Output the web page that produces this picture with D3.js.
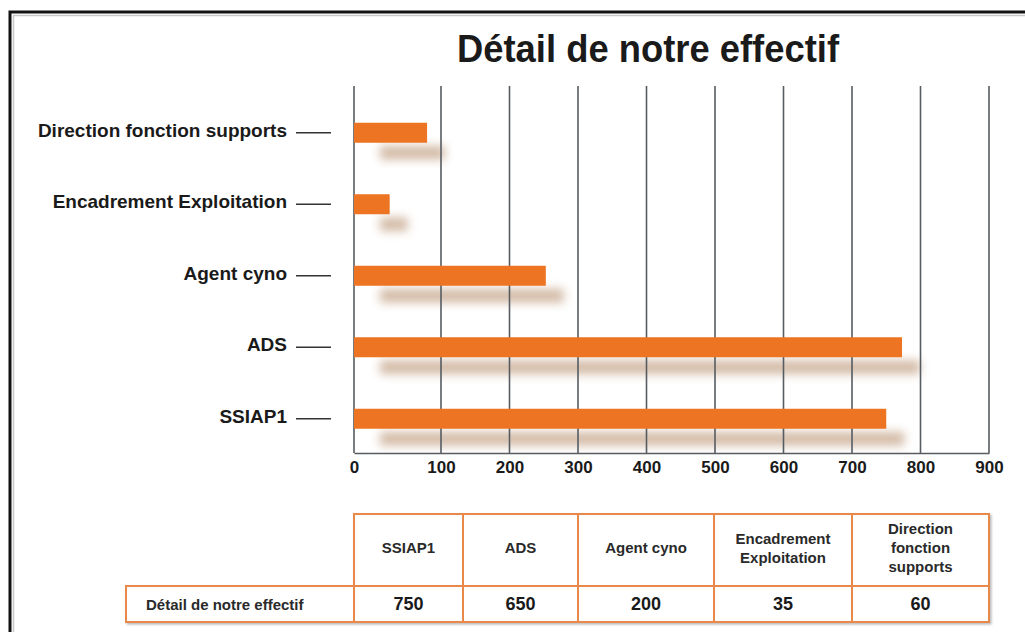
<!DOCTYPE html>
<html>
<head>
<meta charset="utf-8">
<script src="https://cdnjs.cloudflare.com/ajax/libs/d3/7.8.5/d3.min.js"></script>
<style>
  body { margin: 0; background: #fff; }
  text { font-family: "Liberation Sans", Arial, sans-serif; font-weight: bold; }
</style>
</head>
<body>
<div id="chart"></div>
<script>
// data
let categories = ["SSIAP1", "ADS", "Agent cyno", "Encadrement Exploitation", "Direction fonction supports"];
// bar lengths as drawn in the chart
let barValues = [750, 773, 253, 41, 84];
// values printed in the table under the chart
let tableValues = [750, 650, 200, 35, 60];
let tableHeaders = [["SSIAP1"], ["ADS"], ["Agent cyno"], ["Encadrement", "Exploitation"], ["Direction", "fonction", "supports"]];
let tickValues = [0, 100, 200, 300, 400, 500, 600, 700, 800, 900];
let seriesName = "Détail de notre effectif";
let chartTitle = "Détail de notre effectif";

let svgWidth = 1025;
let svgHeight = 632;

let svg = d3.select("#chart")
    .append("svg")
    .attr("width", svgWidth)
    .attr("height", svgHeight);

let defs = svg.append("defs");
defs.append("filter")
    .attr("id", "shadowBlur")
    .attr("x", "-50%").attr("y", "-300%")
    .attr("width", "200%").attr("height", "700%")
    .append("feGaussianBlur")
    .attr("stdDeviation", 5);

let tableShadow = defs.append("filter")
    .attr("id", "tableShadow")
    .attr("x", "-5%").attr("y", "-20%")
    .attr("width", "110%").attr("height", "140%");
tableShadow.append("feDropShadow")
    .attr("dx", 1.5).attr("dy", 1.5)
    .attr("stdDeviation", 1)
    .attr("flood-color", "#888")
    .attr("flood-opacity", 0.6);

// frame round the picture
svg.append("path")
    .attr("d", "M13.5,632 V15.5 H1025")
    .attr("fill", "none")
    .attr("stroke", "#c8c8c8")
    .attr("stroke-width", 1.5);
svg.append("path")
    .attr("d", "M10,632 V12 H1025")
    .attr("fill", "none")
    .attr("stroke", "#111")
    .attr("stroke-width", 3);

// title
svg.append("text")
    .attr("x", 457)
    .attr("y", 62)
    .attr("font-size", 38)
    .attr("textLength", 382)
    .attr("lengthAdjust", "spacingAndGlyphs")
    .attr("fill", "#1a1a1a")
    .text(chartTitle);

// scales (the first step of the axis is wider than the others in the picture)
let xScale = d3.scaleLinear()
    .domain([0, 100, 900])
    .range([354, 441, 989]);

let yScale = d3.scaleBand()
    .domain(categories.slice().reverse())
    .range([97, 454.5]);

let plotTop = 86;
let plotBottom = 453;
let barHeight = 20;

let data = categories.map((c, i) => ({ name: c, value: barValues[i] }));

// blurred shadows behind the bars
svg.append("g")
    .selectAll("rect")
    .data(data)
    .enter()
    .append("rect")
    .attr("x", xScale(0) + 26)
    .attr("y", d => yScale(d.name) + yScale.bandwidth() / 2 + 13)
    .attr("width", d => Math.max(0, xScale(d.value) - xScale(0) - 8))
    .attr("height", 14)
    .attr("fill", "#b8906e")
    .attr("opacity", 0.6)
    .attr("filter", "url(#shadowBlur)");

// vertical grid lines
svg.append("g")
    .selectAll("line")
    .data(tickValues)
    .enter()
    .append("line")
    .attr("x1", d => xScale(d))
    .attr("x2", d => xScale(d))
    .attr("y1", plotTop)
    .attr("y2", plotBottom)
    .attr("stroke", "#565c62")
    .attr("stroke-width", 1.6);

// bottom axis
let bottomAxis = d3.axisBottom(xScale)
    .tickValues(tickValues)
    .tickSize(0)
    .tickPadding(8);

let xAxis = svg.append("g")
    .attr("transform", `translate(0, ${plotBottom})`)
    .call(bottomAxis);
xAxis.select(".domain")
    .attr("stroke", "#565c62")
    .attr("stroke-width", 1.6);
xAxis.selectAll("text")
    .attr("font-size", 17)
    .attr("fill", "#1a1a1a")
    .attr("font-family", "Liberation Sans, Arial, sans-serif");

// bars
svg.append("g")
    .selectAll("rect")
    .data(data)
    .enter()
    .append("rect")
    .attr("x", xScale(0))
    .attr("y", d => yScale(d.name) + yScale.bandwidth() / 2 - barHeight / 2)
    .attr("width", d => xScale(d.value) - xScale(0))
    .attr("height", barHeight)
    .attr("fill", "#ed7423");

// category labels with their little tick lines
let leftAxis = d3.axisLeft(yScale)
    .tickSize(35)
    .tickPadding(9);

let yAxis = svg.append("g")
    .attr("transform", "translate(331, 0)")
    .call(leftAxis);
yAxis.select(".domain").remove();
yAxis.selectAll("line")
    .attr("stroke", "#333")
    .attr("stroke-width", 1.5);
yAxis.selectAll("text")
    .attr("font-size", 19)
    .attr("dy", "0.2em")
    .attr("fill", "#1a1a1a")
    .attr("font-family", "Liberation Sans, Arial, sans-serif");

// data table under the chart
let colEdges = [354, 463, 578, 714, 852, 989];
let headerTop = 514;
let rowTop = 586;
let rowBottom = 622;
let labelLeft = 126;
let borderColor = "#e8894a";

let table = svg.append("g").attr("filter", "url(#tableShadow)");

// header cells
table.selectAll("rect.head")
    .data(tableHeaders)
    .enter()
    .append("rect")
    .attr("class", "head")
    .attr("x", (d, i) => colEdges[i])
    .attr("y", headerTop)
    .attr("width", (d, i) => colEdges[i + 1] - colEdges[i])
    .attr("height", rowTop - headerTop)
    .attr("fill", "#fff")
    .attr("stroke", borderColor)
    .attr("stroke-width", 2);

// value row cells, label cell first
let rowCells = [labelLeft].concat(colEdges);
table.selectAll("rect.val")
    .data(d3.range(rowCells.length - 1))
    .enter()
    .append("rect")
    .attr("class", "val")
    .attr("x", i => rowCells[i])
    .attr("y", rowTop)
    .attr("width", i => rowCells[i + 1] - rowCells[i])
    .attr("height", rowBottom - rowTop)
    .attr("fill", "#fff")
    .attr("stroke", borderColor)
    .attr("stroke-width", 2);

let lineGap = 19;
let headerMid = 548;

let headText = svg.append("g");
tableHeaders.forEach((lines, i) => {
    let cx = (colEdges[i] + colEdges[i + 1]) / 2;
    let t = headText.append("text")
        .attr("text-anchor", "middle")
        .attr("font-size", 15)
        .attr("fill", "#2a2a2a");
    lines.forEach((ln, j) => {
        t.append("tspan")
            .attr("x", cx)
            .attr("y", headerMid + (j - (lines.length - 1) / 2) * lineGap + 5)
            .text(ln);
    });
});

svg.append("g")
    .selectAll("text")
    .data(tableValues)
    .enter()
    .append("text")
    .attr("x", (d, i) => (colEdges[i] + colEdges[i + 1]) / 2)
    .attr("y", 610)
    .attr("text-anchor", "middle")
    .attr("font-size", 18)
    .attr("fill", "#1a1a1a")
    .text(d => d);

svg.append("text")
    .attr("x", 146)
    .attr("y", 610)
    .attr("font-size", 15)
    .attr("fill", "#2a2a2a")
    .text(seriesName);
</script>
</body>
</html>
